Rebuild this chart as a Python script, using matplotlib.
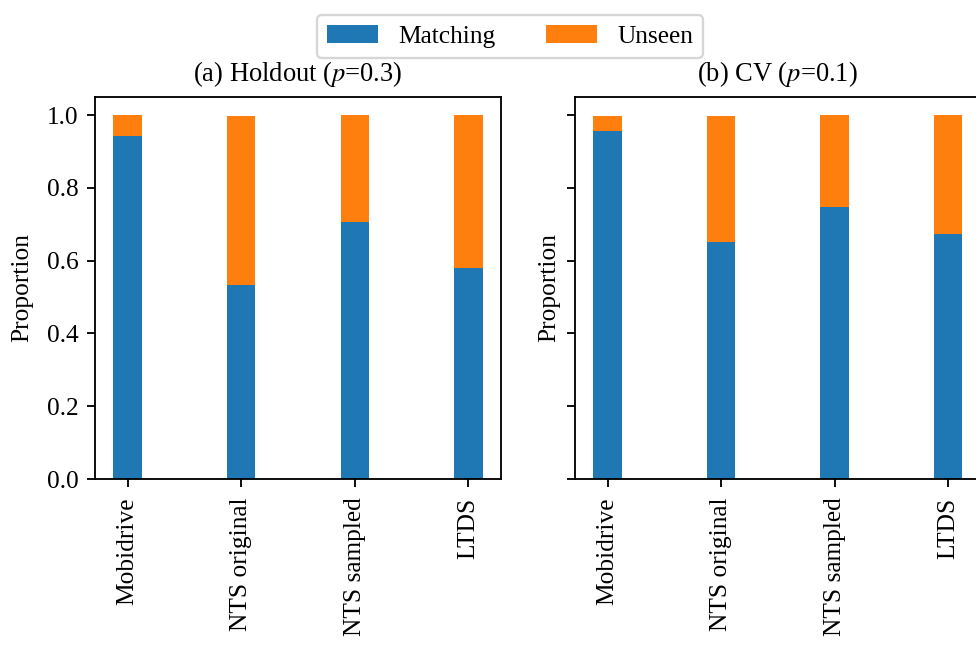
import matplotlib
matplotlib.use('Agg')
import matplotlib.pyplot as plt
import numpy as np

plt.rcParams['font.family'] = ['Liberation Serif', 'DejaVu Serif']
plt.rcParams['mathtext.fontset'] = 'stix'
plt.rcParams['font.size'] = 11

datasets = ['Mobidrive', 'NTS original', 'NTS sampled', 'LTDS']

# (a) Holdout p=0.3
holdout_matching = [0.942, 0.533, 0.707, 0.580]
holdout_unseen = [0.058, 0.464, 0.293, 0.420]

# (b) CV p=0.1
cv_matching = [0.956, 0.652, 0.749, 0.674]
cv_unseen = [0.041, 0.345, 0.251, 0.326]

titles = ['(a) Holdout ($p$=0.3)', '(b) CV ($p$=0.1)']

DPI = 166
fig = plt.figure(figsize=(976 / DPI, 646 / DPI), dpi=DPI)
ax1 = fig.add_axes([0.0973, 0.2585, 0.416, 0.5913])
ax2 = fig.add_axes([0.589, 0.2585, 0.416, 0.5913], sharey=ax1)

x = np.arange(len(datasets))
w = 0.25
for ax, m, u, t in [(ax1, holdout_matching, holdout_unseen, titles[0]),
                    (ax2, cv_matching, cv_unseen, titles[1])]:
    ax.bar(x, m, w, color='#1f77b4', label='Matching')
    ax.bar(x, u, w, bottom=m, color='#ff7f0e', label='Unseen')
    ax.set_xticks(x)
    ax.set_xticklabels(datasets, rotation=90)
    ax.tick_params(axis='x', pad=4.5)
    ax.set_title(t, fontsize=11.5, pad=7)

ax1.set_ylabel('Proportion', labelpad=6)
ax2.set_ylabel('Proportion', labelpad=3)
plt.setp(ax2.get_yticklabels(), visible=False)

handles, labels = ax1.get_legend_handles_labels()
fig.legend(handles, labels, loc='upper center', ncol=2,
           bbox_to_anchor=(0.5225, 0.997))

fig.savefig('out.png', dpi=DPI)
